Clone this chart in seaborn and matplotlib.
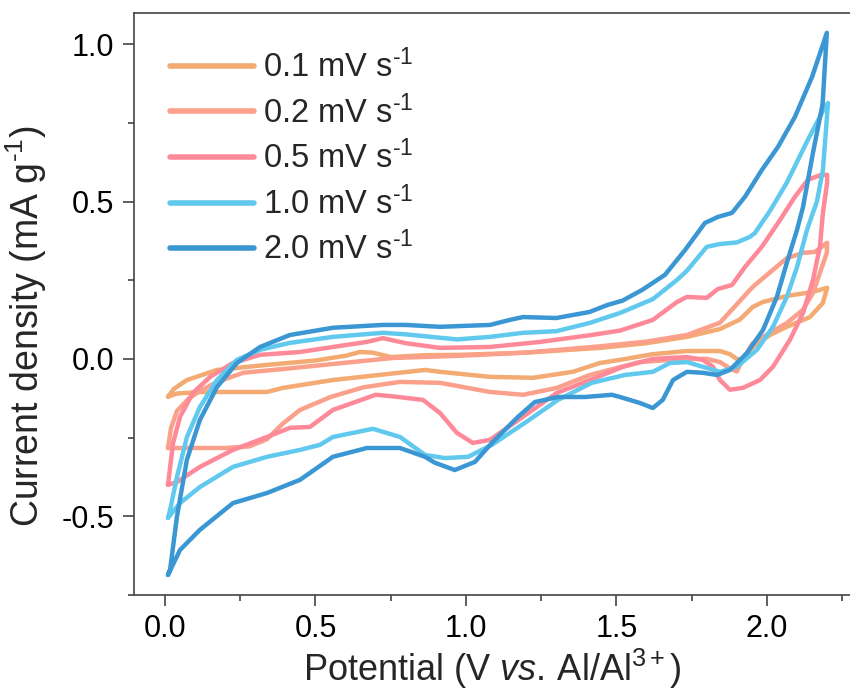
import numpy as np
import pandas as pd
import matplotlib
matplotlib.use("Agg")
import matplotlib.pyplot as plt
import seaborn as sns
from matplotlib.ticker import MultipleLocator

sns.set_theme(style="ticks")
plt.rcParams["font.family"] = ["Liberation Sans", "DejaVu Sans"]
plt.rcParams["mathtext.fontset"] = "custom"
plt.rcParams["mathtext.rm"] = "Liberation Sans"
plt.rcParams["mathtext.it"] = "Liberation Sans:italic"
plt.rcParams["axes.unicode_minus"] = False

labels = ["0.1 mV s$^{\\text{-}1}$", "0.2 mV s$^{\\text{-}1}$", "0.5 mV s$^{\\text{-}1}$",
          "1.0 mV s$^{\\text{-}1}$", "2.0 mV s$^{\\text{-}1}$"]
colors = ["#F3AA73", "#FBA08B", "#FE8A99", "#62C9EE", "#3B97D3"]

# 0.1 mV/s loop (anodic then cathodic)
pot_01 = [0.01, 0.03, 0.073, 0.173, 0.339, 0.50, 0.60, 0.648, 0.69, 0.75, 0.864, 0.98, 1.2, 1.445, 1.6,
          1.734, 1.844, 1.91, 1.953, 1.987, 2.066, 2.153, 2.2,
          2.186, 2.143, 2.066, 2.01, 1.953, 1.92, 1.9, 1.877, 1.844, 1.734, 1.62, 1.512, 1.445, 1.355,
          1.223, 1.08, 0.914, 0.864, 0.558, 0.392, 0.339, 0.116, 0.04, 0.01]
cur_01 = [-0.12, -0.095, -0.067, -0.035, -0.019, -0.005, 0.01, 0.022, 0.02, 0.006, 0.012, 0.013, 0.02, 0.035, 0.05,
          0.07, 0.095, 0.125, 0.165, 0.181, 0.20, 0.213, 0.226,
          0.178, 0.133, 0.102, 0.076, 0.038, -0.003, 0.0, 0.015, 0.025, 0.025, 0.015, -0.003, -0.013, -0.041,
          -0.06, -0.057, -0.041, -0.035, -0.067, -0.092, -0.105, -0.105, -0.11, -0.12]

# 0.2 mV/s loop
pot_02 = [0.01, 0.02, 0.04, 0.08, 0.12, 0.173, 0.26, 0.425, 0.59, 0.757, 0.98, 1.2, 1.445, 1.6, 1.734,
          1.844, 1.953, 2.01, 2.066, 2.12, 2.16, 2.2,
          2.199, 2.176, 2.153, 2.12, 2.066, 2.01, 1.953, 1.92, 1.90, 1.877, 1.844, 1.8, 1.734, 1.65, 1.578,
          1.412, 1.302, 1.19, 1.08, 0.914, 0.78, 0.66, 0.55, 0.449, 0.392, 0.339, 0.28, 0.2, 0.1, 0.03, 0.01]
cur_02 = [-0.283, -0.22, -0.165, -0.125, -0.1, -0.073, -0.044, -0.029, -0.013, 0.003, 0.01, 0.02, 0.04, 0.055, 0.076,
          0.115, 0.229, 0.275, 0.32, 0.337, 0.34, 0.369,
          0.337, 0.273, 0.21, 0.156, 0.114, 0.083, 0.05, 0.0, -0.04, -0.03, -0.01, 0.0, 0.0, -0.005, -0.01,
          -0.051, -0.092, -0.114, -0.105, -0.076, -0.073, -0.09, -0.121, -0.162, -0.205, -0.255, -0.278, -0.283,
          -0.283, -0.283, -0.283]

# 0.5 mV/s loop
pot_05 = [0.01, 0.027, 0.05, 0.093, 0.15, 0.226, 0.316, 0.449, 0.558, 0.671, 0.724, 0.80, 0.914, 1.08, 1.246,
          1.41, 1.512, 1.621, 1.70, 1.734, 1.80, 1.837, 1.884, 1.927, 1.983, 2.037, 2.093, 2.136, 2.18, 2.2,
          2.2, 2.186, 2.176, 2.153, 2.12, 2.076, 2.02, 1.977, 1.92, 1.877, 1.844, 1.821, 1.787, 1.734, 1.621,
          1.522, 1.412, 1.302, 1.189, 1.08, 1.023, 0.97, 0.914, 0.857, 0.748, 0.70, 0.558, 0.482, 0.415, 0.339,
          0.226, 0.116, 0.04, 0.01]
cur_05 = [-0.40, -0.267, -0.184, -0.108, -0.057, -0.013, 0.013, 0.022, 0.038, 0.054, 0.066, 0.05, 0.035, 0.038, 0.054,
          0.075, 0.09, 0.124, 0.18, 0.197, 0.194, 0.222, 0.235, 0.292, 0.356, 0.432, 0.515, 0.569, 0.585, 0.585,
          0.56, 0.464, 0.356, 0.251, 0.146, 0.06, -0.025, -0.067, -0.092, -0.098, -0.067, -0.025, -0.003, 0.006, 0.0,
          -0.025, -0.067, -0.108, -0.184, -0.257, -0.267, -0.235, -0.172, -0.13, -0.118, -0.114, -0.162, -0.216,
          -0.219, -0.248, -0.289, -0.343, -0.391, -0.40]

# 1.0 mV/s loop
pot_10 = [0.01, 0.017, 0.04, 0.073, 0.116, 0.173, 0.239, 0.316, 0.415, 0.558, 0.724, 0.80, 0.97, 1.08, 1.19,
          1.30, 1.41, 1.512, 1.621, 1.70, 1.734, 1.80, 1.844, 1.90, 1.944, 1.96, 2.01, 2.066, 2.136, 2.193, 2.203,
          2.186, 2.166, 2.133, 2.10, 2.066, 2.02, 1.967, 1.90, 1.844, 1.787, 1.734, 1.678, 1.621, 1.528, 1.418,
          1.306, 1.196, 1.086, 1.007, 0.93, 0.864, 0.781, 0.691, 0.558, 0.515, 0.449, 0.339, 0.226, 0.116, 0.05, 0.01]
cur_10 = [-0.505, -0.48, -0.375, -0.248, -0.153, -0.067, -0.003, 0.029, 0.051, 0.07, 0.083, 0.078, 0.062, 0.07, 0.083,
          0.088, 0.114, 0.146, 0.19, 0.25, 0.28, 0.356, 0.365, 0.37, 0.388, 0.40, 0.47, 0.56, 0.696, 0.80, 0.813,
          0.60, 0.50, 0.41, 0.292, 0.197, 0.102, 0.029, -0.025, -0.041, -0.025, -0.01, -0.013, -0.041, -0.051, -0.076,
          -0.13, -0.203, -0.273, -0.311, -0.315, -0.305, -0.248, -0.222, -0.248, -0.273, -0.289, -0.311, -0.343,
          -0.407, -0.458, -0.505]

# 2.0 mV/s loop
pot_20 = [0.01, 0.017, 0.04, 0.073, 0.116, 0.173, 0.239, 0.316, 0.415, 0.558, 0.724, 0.80, 0.914, 1.08, 1.15,
          1.19, 1.30, 1.41, 1.472, 1.52, 1.585, 1.661, 1.728, 1.794, 1.837, 1.884, 1.927, 1.983, 2.037, 2.093,
          2.150, 2.199,
          2.185, 2.153, 2.12, 2.10, 2.066, 2.033, 1.987, 1.934, 1.877, 1.834, 1.787, 1.734, 1.688, 1.654, 1.621,
          1.578, 1.512, 1.485, 1.395, 1.306, 1.229, 1.173, 1.086, 1.03, 0.963, 0.897, 0.864, 0.781, 0.671, 0.558,
          0.449, 0.339, 0.226, 0.116, 0.05, 0.01]
cur_20 = [-0.686, -0.67, -0.50, -0.32, -0.194, -0.089, -0.013, 0.038, 0.076, 0.099, 0.108, 0.108, 0.102, 0.108, 0.125,
          0.133, 0.13, 0.149, 0.172, 0.185, 0.219, 0.267, 0.346, 0.432, 0.451, 0.464, 0.515, 0.60, 0.674, 0.769,
          0.896, 1.036,
          0.81, 0.655, 0.483, 0.41, 0.305, 0.197, 0.092, 0.019, -0.035, -0.051, -0.044, -0.041, -0.067, -0.13, -0.156,
          -0.14, -0.121, -0.114, -0.121, -0.121, -0.137, -0.184, -0.267, -0.327, -0.353, -0.330, -0.311, -0.283,
          -0.283, -0.311, -0.384, -0.426, -0.458, -0.543, -0.607, -0.686]

pots = [pot_01, pot_02, pot_05, pot_10, pot_20]
curs = [cur_01, cur_02, cur_05, cur_10, cur_20]

frames = []
for lab, p, c in zip(labels, pots, curs):
    frames.append(pd.DataFrame({"Potential": p, "Current": c, "Rate": lab}))
df = pd.concat(frames, ignore_index=True)

fig = plt.figure(figsize=(8.5, 6.95), dpi=100)
ax = fig.add_axes([0.1576, 0.1439, 0.8424, 0.8374])

sns.lineplot(data=df, x="Potential", y="Current", hue="Rate", hue_order=labels,
             palette=colors, sort=False, estimator=None, linewidth=3.2, ax=ax,
             solid_capstyle="round", solid_joinstyle="round")

ax.set_xlim(-0.103, 2.276)
ax.set_ylim(-0.75, 1.099)
ax.xaxis.set_major_locator(MultipleLocator(0.5))
ax.xaxis.set_minor_locator(MultipleLocator(0.25))
ax.yaxis.set_major_locator(MultipleLocator(0.5))
ax.yaxis.set_minor_locator(MultipleLocator(0.25))
ax.xaxis.set_major_formatter(matplotlib.ticker.FormatStrFormatter("%.1f"))
ax.yaxis.set_major_formatter(matplotlib.ticker.FormatStrFormatter("%.1f"))

ax.tick_params(axis="both", which="major", direction="out", length=8, width=1.1,
               labelsize=22, colors="#333333", labelcolor="black", pad=6)
ax.tick_params(axis="both", which="minor", direction="out", length=4.5, width=1.1, colors="#333333")

for s in ["left", "bottom", "top"]:
    ax.spines[s].set_color("#444444")
    ax.spines[s].set_linewidth(1.2)
ax.spines["right"].set_visible(False)

ax.set_xlabel("Potential (V $\\mathit{vs.}\\,$Al/Al$^{3+}$)", fontsize=26, labelpad=2)
ax.set_ylabel("Current density (mA g$^{\\text{-}1}$)", fontsize=27)
ax.yaxis.set_label_coords(-0.119, 0.462)

leg = ax.legend(loc="upper left", bbox_to_anchor=(0.051, 0.937), frameon=False,
                fontsize=23.5, handlelength=2.55, handletextpad=0.3, labelspacing=0.34,
                borderpad=0, borderaxespad=0)
for line in leg.get_lines():
    line.set_linewidth(4.0)

fig.savefig("out.png", dpi=100)
